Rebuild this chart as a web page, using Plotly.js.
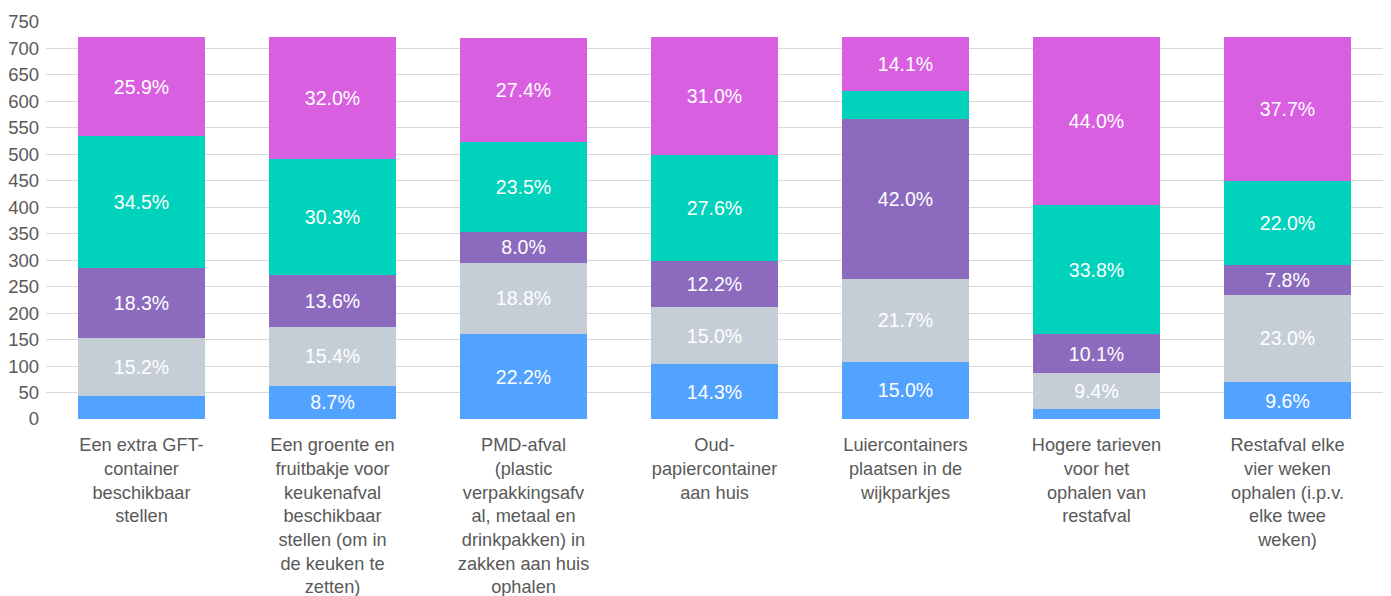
<!DOCTYPE html>
<html>
<head>
<meta charset="utf-8">
<script src="https://cdn.plot.ly/plotly-3.0.1.min.js"></script>
<style>html,body{margin:0;padding:0;background:#fff;}#chart{width:1391px;height:596px;}</style>
</head>
<body>
<div id="chart"></div>
<script>
const categories = [
  "Een extra GFT-<br>container<br>beschikbaar<br>stellen",
  "Een groente en<br>fruitbakje voor<br>keukenafval<br>beschikbaar<br>stellen (om in<br>de keuken te<br>zetten)",
  "PMD-afval<br>(plastic<br>verpakkingsafv<br>al, metaal en<br>drinkpakken) in<br>zakken aan huis<br>ophalen",
  "Oud-<br>papiercontainer<br>aan huis",
  "Luiercontainers<br>plaatsen in de<br>wijkparkjes",
  "Hogere tarieven<br>voor het<br>ophalen van<br>restafval",
  "Restafval elke<br>vier weken<br>ophalen (i.p.v.<br>elke twee<br>weken)"
];
const totals = [721, 721, 721, 721, 721, 721, 721];
const pctBlue    = [6.1, 8.7, 22.2, 14.3, 15.0, 2.7, 9.6];
const pctGray    = [15.2, 15.4, 18.8, 15.0, 21.7, 9.4, 23.0];
const pctPurple  = [18.3, 13.6, 8.0, 12.2, 42.0, 10.1, 7.8];
const pctTeal    = [34.5, 30.3, 23.5, 27.6, 7.2, 33.8, 22.0];
const pctMagenta = [25.9, 32.0, 27.4, 31.0, 14.1, 44.0, 37.7];
const showBlue    = [false, true, true, true, true, false, true];
const showGray    = [true, true, true, true, true, true, true];
const showPurple  = [true, true, true, true, true, true, true];
const showTeal    = [true, true, true, true, false, true, true];
const showMagenta = [true, true, true, true, true, true, true];
const yTicks = [0, 50, 100, 150, 200, 250, 300, 350, 400, 450, 500, 550, 600, 650, 700, 750];

const FONT = "Liberation Sans, Arial, sans-serif";
function mk(pct, show, color, name) {
  return {
    type: "bar", name: name,
    x: categories,
    y: pct.map((p, i) => p / 100 * totals[i]),
    text: pct.map((p, i) => show[i] ? p.toFixed(1) + "%" : ""),
    textposition: "inside", insidetextanchor: "middle",
    textfont: {family: FONT, size: 19.5, color: "#ffffff"},
    constraintext: "none",
    marker: {color: color},
    hoverinfo: "skip"
  };
}
const data = [
  mk(pctBlue, showBlue, "#52a2ff", "s1"),
  mk(pctGray, showGray, "#c5ced7", "s2"),
  mk(pctPurple, showPurple, "#8c6bbe", "s3"),
  mk(pctTeal, showTeal, "#00d2bb", "s4"),
  mk(pctMagenta, showMagenta, "#d95fe1", "s5")
];
const layout = {
  width: 1391, height: 596,
  barmode: "stack", bargap: 0.33,
  showlegend: false,
  margin: {l: 46, r: 8, t: 22, b: 177},
  paper_bgcolor: "#fff", plot_bgcolor: "#fff",
  font: {family: FONT, size: 18, color: "#595959"},
  xaxis: {type: "category", tickangle: 0, showgrid: false, zeroline: false, showline: false,
          tickfont: {family: FONT, size: 18.2, color: "#595959"}, ticks: "", ticklabelstandoff: 13},
  yaxis: {range: [0, 750], tickvals: yTicks, ticktext: yTicks.map(String),
          showgrid: true, gridcolor: "#d9d9d9", gridwidth: 1, zeroline: false, showline: false,
          tickfont: {family: FONT, size: 18.5, color: "#595959"}, ticks: "", ticklabelstandoff: 6}
};
Plotly.newPlot("chart", data, layout, {displayModeBar: false, staticPlot: true});
</script>
</body>
</html>
